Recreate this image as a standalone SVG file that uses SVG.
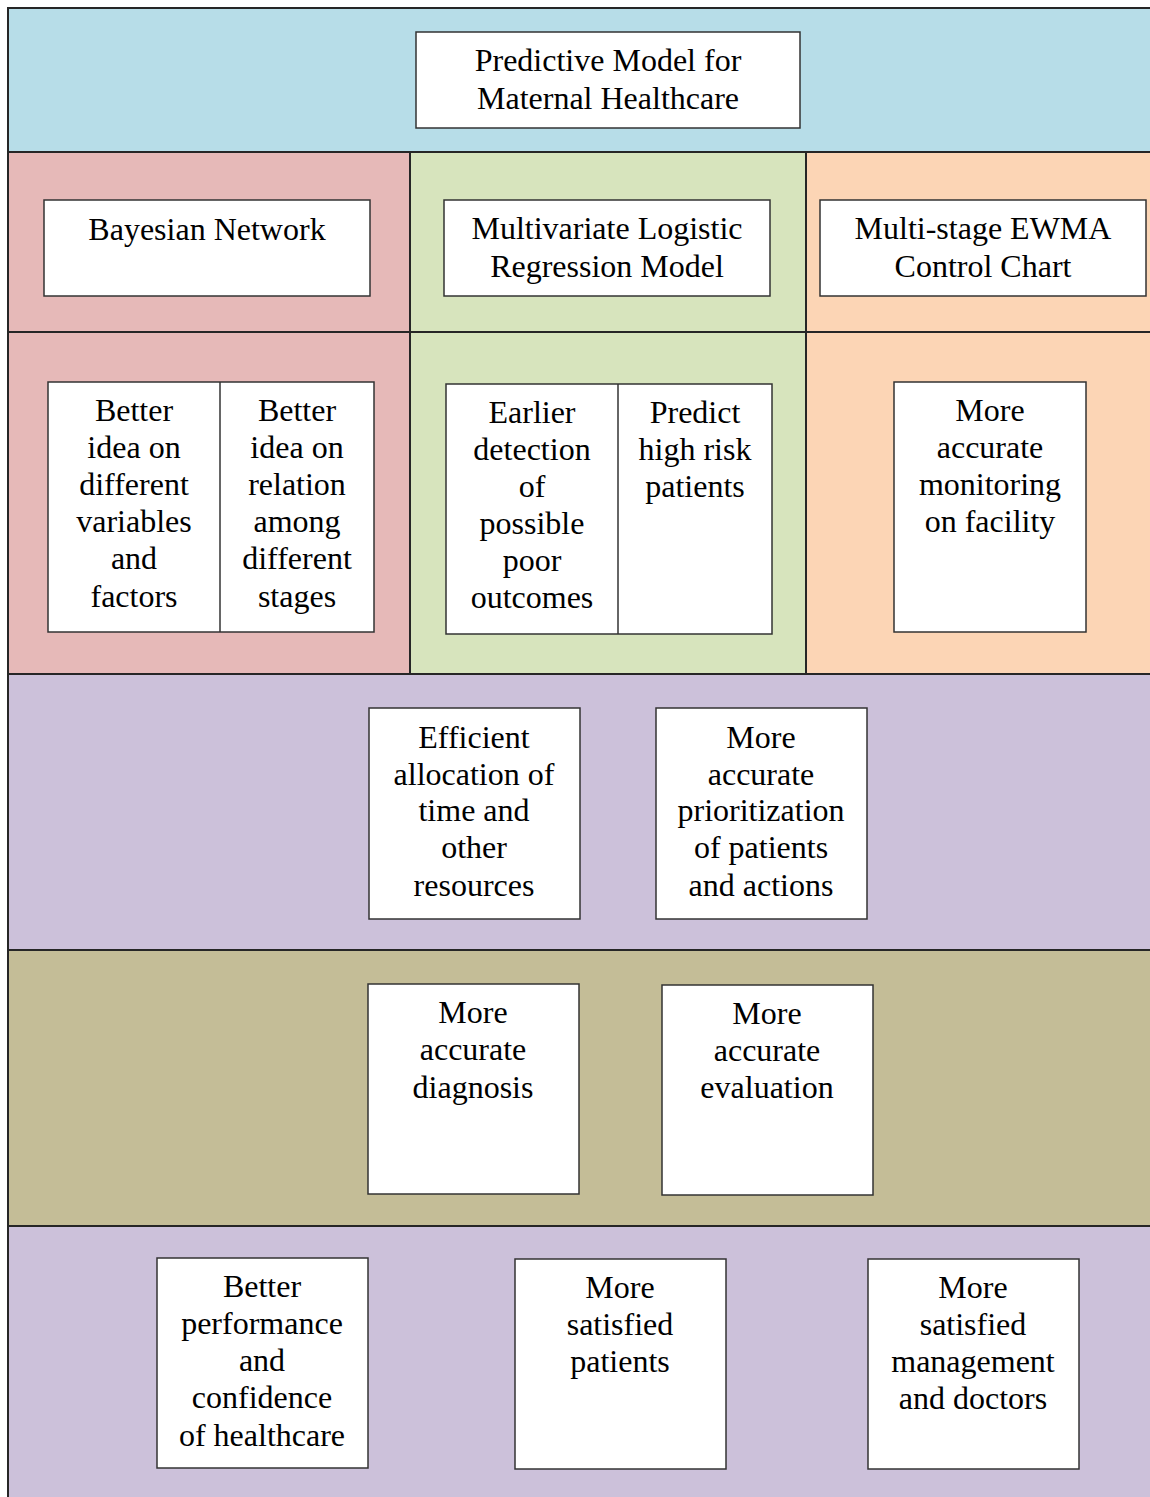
<svg xmlns="http://www.w3.org/2000/svg" width="1150" height="1497" viewBox="0 0 1150 1497">
<style>
.band{stroke:none}
.sep{stroke:#262626;stroke-width:2;fill:none}
.box{fill:#ffffff;stroke:#333333;stroke-width:1.5}
.div{stroke:#333333;stroke-width:1.5}
.t text{fill:#000;text-anchor:middle}
</style>
<rect width="1150" height="1497" fill="#ffffff"/>
<g id="bands">
<rect class="band" x="8" y="8" width="1142" height="144" fill="#b7dde8"/>
<rect class="band" x="8" y="152" width="402" height="522" fill="#e6b9b8"/>
<rect class="band" x="410" y="152" width="396" height="522" fill="#d7e4bd"/>
<rect class="band" x="806" y="152" width="344" height="522" fill="#fcd5b5"/>
<rect class="band" x="8" y="674" width="1142" height="276" fill="#ccc1da"/>
<rect class="band" x="8" y="950" width="1142" height="276" fill="#c4bd97"/>
<rect class="band" x="8" y="1226" width="1142" height="271" fill="#ccc1da"/>
<path class="sep" d="M8 1497V8H1150M8 152H1150M8 332H1150M8 674H1150M8 950H1150M8 1226H1150M410 152V674M806 152V674"/>
</g>
<g id="connectors"></g>
<g class="t" font-family="'Liberation Serif', 'Times New Roman', Times, serif" font-size="32">
<g id="title">
<rect class="box" x="416" y="32" width="384" height="96"/>
<text x="608" y="71">Predictive Model for</text>
<text x="608" y="109">Maternal Healthcare</text>
</g>
<g id="bayesian">
<rect class="box" x="44" y="200" width="326" height="96"/>
<text x="207" y="240">Bayesian Network</text>
</g>
<g id="mlr">
<rect class="box" x="444" y="200" width="326" height="96"/>
<text x="607" y="239">Multivariate Logistic</text>
<text x="607" y="277">Regression Model</text>
</g>
<g id="ewma">
<rect class="box" x="820" y="200" width="326" height="96"/>
<text x="983" y="239">Multi-stage EWMA</text>
<text x="983" y="277">Control Chart</text>
</g>
<g id="bn-benefits">
<rect class="box" x="48" y="382" width="326" height="250"/>
<line class="div" x1="220" y1="382" x2="220" y2="632"/>
<text x="134" y="421">Better</text>
<text x="134" y="458">idea on</text>
<text x="134" y="495">different</text>
<text x="134" y="532">variables</text>
<text x="134" y="569">and</text>
<text x="134" y="607">factors</text>
<text x="297" y="421">Better</text>
<text x="297" y="458">idea on</text>
<text x="297" y="495">relation</text>
<text x="297" y="532">among</text>
<text x="297" y="569">different</text>
<text x="297" y="607">stages</text>
</g>
<g id="mlr-benefits">
<rect class="box" x="446" y="384" width="326" height="250"/>
<line class="div" x1="618" y1="384" x2="618" y2="634"/>
<text x="532" y="423">Earlier</text>
<text x="532" y="460">detection</text>
<text x="532" y="497">of</text>
<text x="532" y="534">possible</text>
<text x="532" y="571">poor</text>
<text x="532" y="608">outcomes</text>
<text x="695" y="423">Predict</text>
<text x="695" y="460">high risk</text>
<text x="695" y="497">patients</text>
</g>
<g id="ewma-benefits">
<rect class="box" x="894" y="382" width="192" height="250"/>
<text x="990" y="421">More</text>
<text x="990" y="458">accurate</text>
<text x="990" y="495">monitoring</text>
<text x="990" y="532">on facility</text>
</g>
<g id="allocation">
<rect class="box" x="369" y="708" width="211" height="211"/>
<text x="474" y="748">Efficient</text>
<text x="474" y="785">allocation of</text>
<text x="474" y="821">time and</text>
<text x="474" y="858">other</text>
<text x="474" y="896">resources</text>
</g>
<g id="prioritization">
<rect class="box" x="656" y="708" width="211" height="211"/>
<text x="761" y="748">More</text>
<text x="761" y="785">accurate</text>
<text x="761" y="821">prioritization</text>
<text x="761" y="858">of patients</text>
<text x="761" y="896">and actions</text>
</g>
<g id="diagnosis">
<rect class="box" x="368" y="984" width="211" height="210"/>
<text x="473" y="1023">More</text>
<text x="473" y="1060">accurate</text>
<text x="473" y="1098">diagnosis</text>
</g>
<g id="evaluation">
<rect class="box" x="662" y="985" width="211" height="210"/>
<text x="767" y="1024">More</text>
<text x="767" y="1061">accurate</text>
<text x="767" y="1098">evaluation</text>
</g>
<g id="performance">
<rect class="box" x="157" y="1258" width="211" height="210"/>
<text x="262" y="1297">Better</text>
<text x="262" y="1334">performance</text>
<text x="262" y="1371">and</text>
<text x="262" y="1408">confidence</text>
<text x="262" y="1446">of healthcare</text>
</g>
<g id="patients">
<rect class="box" x="515" y="1259" width="211" height="210"/>
<text x="620" y="1298">More</text>
<text x="620" y="1335">satisfied</text>
<text x="620" y="1372">patients</text>
</g>
<g id="management">
<rect class="box" x="868" y="1259" width="211" height="210"/>
<text x="973" y="1298">More</text>
<text x="973" y="1335">satisfied</text>
<text x="973" y="1372">management</text>
<text x="973" y="1409">and doctors</text>
</g>
</g>
</svg>
